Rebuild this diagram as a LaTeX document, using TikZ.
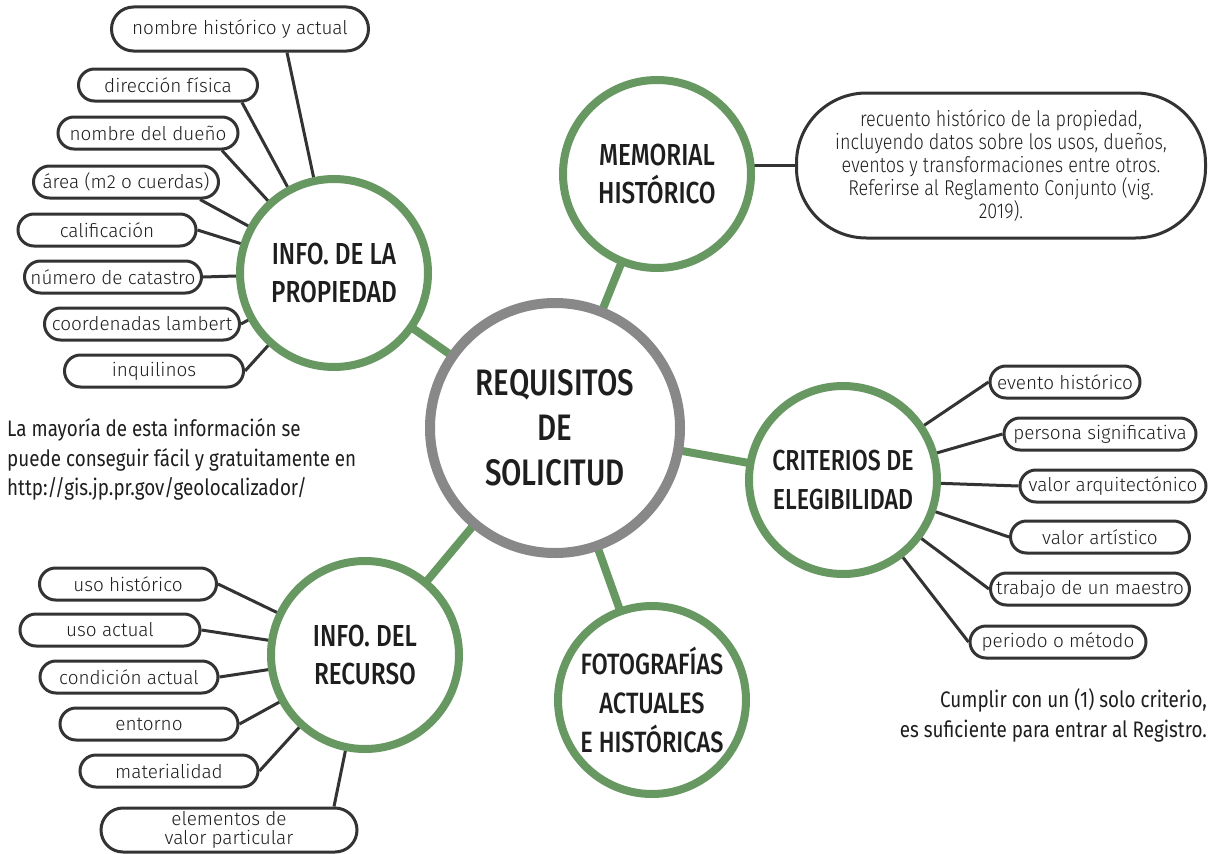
\documentclass[tikz,border=0pt]{standalone}
\usepackage{fontspec}
\setmainfont{Fira Sans}
\newfontfamily\labfont{Fira Sans Light}
\newfontfamily\condfont{Fira Sans}[FakeStretch=0.84]
\newfontfamily\headfont{Fira Sans Medium}[FakeStretch=0.80]
\newfontfamily\condlight{Fira Sans Light}[FakeStretch=0.84]
\pgfdeclarelayer{background}
\pgfsetlayers{background,main}
\definecolor{grn}{RGB}{104,152,98}
\definecolor{hubgray}{RGB}{136,136,136}
\definecolor{dk}{RGB}{51,51,51}
\definecolor{txt}{RGB}{30,30,30}
\tikzset{
  hub/.style={circle, draw=hubgray, line width=10bp, fill=white, minimum size=250bp, inner sep=0pt,
    align=center, text=txt, font=\headfont\fontsize{37}{45}\selectfont},
  topic/.style={circle, draw=grn, line width=8bp, fill=white, minimum size=188bp, inner sep=0pt,
    align=center, text=txt, font=\headfont\fontsize{30.5}{39}\selectfont},
  pill/.style={rectangle, draw=dk, line width=3bp, rounded corners=16bp, fill=white,
    minimum height=32bp, inner sep=0pt, text=txt, font=\labfont\fontsize{19}{19}\selectfont},
  tallpill/.style={pill, minimum height=44bp, rounded corners=22bp},
  glink/.style={draw=grn, line width=8bp},
  dlink/.style={draw=dk, line width=3bp},
  note/.style={text=txt, font=\condfont\fontsize{22.5}{30}\selectfont, inner sep=0pt}
}
\begin{document}
\begin{tikzpicture}[x=1bp,y=-1bp]
\useasboundingbox (0,0) rectangle (1213,854);
% main circles
\node[hub] (req) at (555,428) {REQUISITOS\\DE\\SOLICITUD};
\node[topic] (prop) at (334,273) {INFO. DE LA\\PROPIEDAD};
\node[topic] (mem) at (657,174) {MEMORIAL\\HISTÓRICO};
\node[topic, font=\headfont\fontsize{29}{39}\selectfont] (crit) at (843,480) {CRITERIOS DE\\ELEGIBILIDAD};
\node[topic] (rec) at (365,655) {INFO. DEL\\RECURSO};
\node[topic, font=\headfont\fontsize{29.5}{39}\selectfont] (foto) at (652,700) {FOTOGRAFÍAS\\ACTUALES\\E HISTÓRICAS};
% memorial box
\node[draw=dk, line width=3bp, rounded corners=70bp, fill=white, minimum width=409bp, minimum height=145bp,
  inner sep=0pt, align=center, text=txt, font=\condlight\fontsize{21.5}{23}\selectfont] (memtxt) at (1001,165.5)
  {recuento histórico de la propiedad,\\incluyendo datos sobre los usos, dueños,\\eventos y transformaciones entre otros.\\Referirse al Reglamento Conjunto (vig.\\2019).};
% propiedad pills
\node[tallpill, minimum width=257bp] (p1) at (240,29) {nombre histórico y actual};
\node[pill, minimum width=179bp] (p2) at (168,85) {dirección física};
\node[pill, minimum width=180bp] (p3) at (148,133) {nombre del dueño};
\node[pill, minimum width=185bp] (p4) at (126,182) {área (m2 o cuerdas)};
\node[pill, minimum width=178bp] (p5) at (107,230) {calificación};
\node[pill, minimum width=177bp] (p6) at (113,277) {número de catastro};
\node[pill, minimum width=195bp] (p7) at (142,324) {coordenadas lambert};
\node[pill, minimum width=179bp] (p8) at (154,371) {inquilinos};
% criterios pills
\node[pill, minimum width=150bp] (c1) at (1065,382) {evento histórico};
\node[pill, minimum width=192bp] (c2) at (1100,434) {persona significativa};
\node[pill, minimum width=186bp] (c3) at (1113,486) {valor arquitectónico};
\node[pill, minimum width=179bp] (c4) at (1100,537) {valor artístico};
\node[pill, minimum width=199bp] (c5) at (1090,589) {trabajo de un maestro};
\node[pill, minimum width=176bp] (c6) at (1058,642) {periodo o método};
% recurso pills
\node[pill, minimum width=177bp] (r1) at (128,584) {uso histórico};
\node[pill, minimum width=180bp] (r2) at (110,630) {uso actual};
\node[pill, minimum width=178bp] (r3) at (129,677) {condición actual};
\node[pill, minimum width=178bp] (r4) at (149,724) {entorno};
\node[pill, minimum width=178bp] (r5) at (169,771) {materialidad};
\node[tallpill, minimum width=256bp, align=center, font=\labfont\fontsize{19}{18.5}\selectfont] (r6) at (229,830) {elementos de\\valor particular};
% notes
\node[note, anchor=north west, align=left] (note1) at (7,418)
  {La mayoría de esta información se\\puede conseguir fácil y gratuitamente en\\http://gis.jp.pr.gov/geolocalizador/};
\node[note, anchor=north east, align=right] (note2) at (1207,688)
  {Cumplir con un (1) solo criterio,\\es suficiente para entrar al Registro.};
% connectors
\begin{pgfonlayer}{background}
\draw[glink] (req.center) -- (prop.center);
\draw[glink] (req.center) -- (mem.center);
\draw[glink] (req.center) -- (crit.center);
\draw[glink] (req.center) -- (rec.center);
\draw[glink] (req.center) -- (foto.center);
\draw[dlink] (memtxt.west) -- (memtxt.west -| mem.center);
\draw[dlink] ([xshift=47bp]p1.south) -- (prop.center);
\draw[dlink] ([xshift=74bp]p2.south) -- (prop.center);
\draw[dlink] ([xshift=74bp]p3.south) -- (prop.center);
\draw[dlink] ([xshift=74bp]p4.south) -- (prop.center);
\draw[dlink] (p5.east) -- (prop.center);
\draw[dlink] (p6.east) -- (prop.center);
\draw[dlink] (p7.east) -- (prop.center);
\draw[dlink] (p8.east) -- (prop.center);
\foreach \c in {c1,c2,c3,c4,c5,c6} \draw[dlink] (\c.west) -- (crit.center);
\foreach \r in {r1,r2,r3,r4,r5} \draw[dlink] (\r.east) -- (rec.center);
\draw[dlink] ([xshift=105bp]r6.north) -- (rec.center);
\end{pgfonlayer}
\end{tikzpicture}
\end{document}
